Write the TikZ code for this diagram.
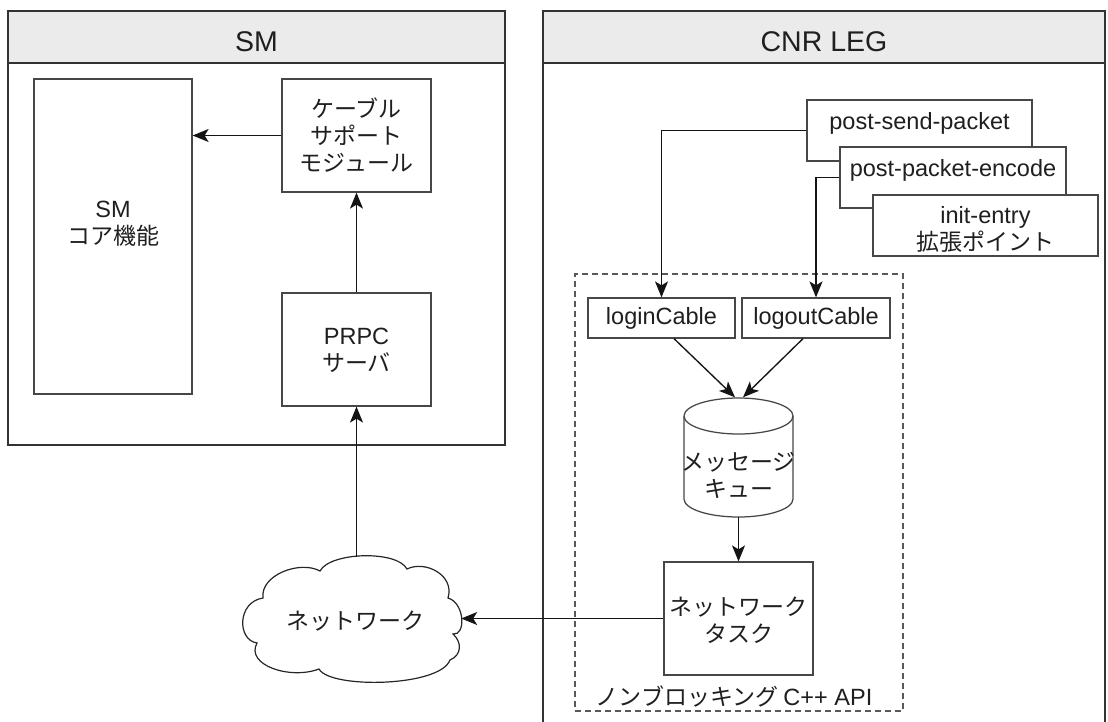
\documentclass[tikz,border=0pt]{standalone}
\usepackage{fontspec}
\setmainfont{Liberation Sans}
\newfontfamily\jp{Noto Sans CJK JP}
\usetikzlibrary{arrows.meta,calc}
\definecolor{hdrgray}{RGB}{235,235,235}
\begin{document}
\begin{tikzpicture}[x=1pt,y=1pt,
  frame/.style={draw=black!80, line width=1.5pt},
  hdr/.style={draw=black!80, line width=1.5pt, fill=hdrgray},
  box/.style={draw=black!72, line width=1.25pt, fill=white, inner sep=0pt},
  ghost/.style={inner sep=0pt},
  txt/.style={font=\fontsize{23.5}{27}\selectfont, text=black!88, align=center, inner sep=0pt},
  htxt/.style={font=\fontsize{28.5}{32}\selectfont, text=black!88, inner sep=0pt},
  jtxt/.style={font=\jp\fontsize{23}{27}\selectfont, text=black!88, align=center, inner sep=0pt},
  arr/.style={draw=black!92, line width=1.35pt, -{Stealth[length=16pt,width=13pt,inset=4pt]}},
  grpbox/.style={draw=black!65, line width=1.1pt, dash pattern=on 6pt off 4pt, inner sep=0pt},
]
\useasboundingbox (0,0) rectangle (1108,-722);

% ---------- SM frame ----------
\draw[frame, fill=white] (8,-11) rectangle (505,-445);
\draw[hdr] (8,-11) rectangle (505,-63);
\node[htxt] (smh) at (256.5,-41.5) {SM};

% ---------- CNR LEG frame ----------
\draw[frame, fill=white] (543,-730) -- (543,-11) -- (1105,-11) -- (1105,-730);
\draw[hdr] (543,-11) rectangle (1105,-63);
\node[htxt] (cnrh) at (824,-41.5) {CNR LEG};

% ---------- SM contents ----------
\node[box, minimum width=158, minimum height=315] (core) at (113,-236.5) {};
\node[txt] (coret) at (113,-224) {SM\\{\jp\fontsize{23}{27}\selectfont コア機能}};
\node[box, minimum width=149, minimum height=113] (cable) at (356.5,-135.5) {};
\node[jtxt] (cablet) at (356.5,-135.5) {ケーブル\\サポート\\モジュール};
\node[box, minimum width=149, minimum height=113] (prpc) at (356.5,-349.5) {};
\node[txt] (prpct) at (356.5,-350) {PRPC\\{\jp\fontsize{23}{27}\selectfont サーバ}};

% ---------- cloud ----------
\draw[draw=black!85, line width=1.2pt, fill=white]
  (263,-598) .. controls (260,-575) and (300,-560) .. (320,-571)
  .. controls (330,-552) and (397,-550) .. (407,-569)
  .. controls (425,-560) and (455,-575) .. (448,-598)
  .. controls (465,-603) and (466,-636) .. (453,-634)
  .. controls (462,-642) and (462,-655) .. (450,-660)
  .. controls (440,-687) and (330,-689) .. (319,-669)
  .. controls (290,-680) and (245,-665) .. (257,-643)
  .. controls (237,-640) and (237,-602) .. (263,-598) -- cycle;
\node[ghost, minimum width=218, minimum height=125] (cloud) at (352,-619.5) {};
\node[jtxt] (cloudt) at (355,-621.5) {ネットワーク};

% ---------- CNR contents ----------
\node[grpbox, minimum width=328, minimum height=437] (grp) at (739,-492.5) {};
\node[jtxt, anchor=base] (grpt) at (734,-705) {ノンブロッキング {\fontspec{Liberation Sans}\fontsize{23.5}{27}\selectfont C++ API}};

\node[box, minimum width=225, minimum height=61] (psp) at (919.5,-130.5) {};
\node[txt] (pspt) at (919.5,-123.5) {post-send-packet};
\node[box, minimum width=226, minimum height=61] (ppe) at (953,-177.5) {};
\node[txt] (ppet) at (953,-170.5) {post-packet-encode};
\node[box, minimum width=225, minimum height=61] (ie) at (985.5,-225.5) {};
\node[txt] (iet) at (985.5,-229) {init-entry\\{\jp\fontsize{23}{27}\selectfont 拡張ポイント}};

\node[box, minimum width=147, minimum height=40] (login) at (661.5,-318) {};
\node[txt] (logint) at (661.5,-318.5) {loginCable};
\node[box, minimum width=148, minimum height=40] (logout) at (816,-318) {};
\node[txt] (logoutt) at (816,-318.5) {logoutCable};

% message queue cylinder
\draw[draw=black!72, line width=1.25pt, fill=white]
  (684,-416) -- (684,-499) arc (180:360:54.5 and 18) -- (793,-416)
  arc (0:180:54.5 and 18) -- cycle;
\draw[draw=black!72, line width=1.25pt] (684,-416) arc (180:360:54.5 and 18);
\node[ghost, minimum width=109, minimum height=119] (mq) at (738.5,-457.5) {};
\node[jtxt] (mqt) at (738.5,-475) {メッセージ\\キュー};

\node[box, minimum width=149, minimum height=113] (task) at (738.5,-618.5) {};
\node[jtxt] (taskt) at (738.5,-620.5) {ネットワーク\\タスク};

% ---------- connectors ----------
\draw[arr] (cable.west) -- (cable.west -| core.east);
\draw[arr] (prpc.north) -- (cable.south);
\draw[arr] (prpc.south |- cloud.north) -- (prpc.south);
\draw[arr] (task.west) -- (task.west -| cloud.east);
\draw[arr] (psp.west) -| (login.north);
\draw[arr] (ppe.west) -| (logout.north);
\draw[arr] ($(login.south)+(12.5,0)$) -- ($(mq.north)+(-3.5,0.5)$);
\draw[arr] ($(logout.south)+(-13,0)$) -- ($(mq.north)+(4.5,0.5)$);
\draw[arr] (mq.south) -- (task.north);
\end{tikzpicture}
\end{document}
